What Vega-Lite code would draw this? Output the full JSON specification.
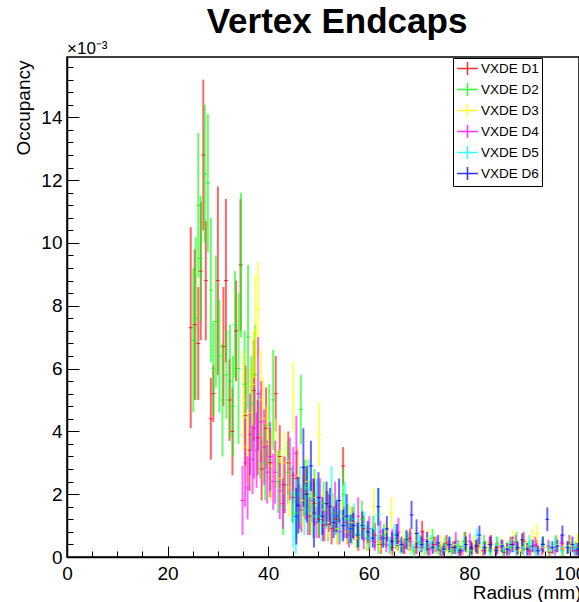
{
"$schema":"https://vega.github.io/schema/vega-lite/v6.json",
"width":512,"height":500,
"autosize":{"type":"none"},
"padding":{"left":67,"top":57,"right":0,"bottom":45},
"background":"white",
"title":{"text":"Vertex Endcaps","font":"Liberation Sans","fontSize":35,"fontWeight":"bold","color":"black","anchor":"middle","frame":"group","dx":14,"offset":-35,"baseline":"bottom"},
"config":{"view":{"stroke":"black","strokeWidth":1.5},"font":"Liberation Sans",
 "axis":{"grid":false,"domainColor":"black","domainWidth":1.5,"tickColor":"black","tickWidth":1,"labelFont":"Liberation Sans","labelFontSize":19,"labelColor":"black","titleFont":"Liberation Sans","titleFontSize":19,"titleFontWeight":"normal","titleColor":"black","labelOverlap":false,"labelFlush":false}},
"resolve":{"axis":{"x":"independent","y":"independent"}},
"data":{"values":[
{"s":"VXDE D1","r":24.6,"o":7.3,"e":3.2},{"s":"VXDE D1","r":25.4,"o":7.4,"e":2.4},{"s":"VXDE D1","r":26.1,"o":6.8,"e":1.8},{"s":"VXDE D1","r":26.6,"o":9.1,"e":2.2},{"s":"VXDE D1","r":27.1,"o":12.8,"e":2.4},{"s":"VXDE D1","r":27.6,"o":8.8,"e":1.9},{"s":"VXDE D1","r":28.6,"o":4.4,"e":1.3},{"s":"VXDE D1","r":29.1,"o":5.2,"e":0.9},{"s":"VXDE D1","r":30.0,"o":8.8,"e":3.0},{"s":"VXDE D1","r":31.1,"o":6.7,"e":1.9},{"s":"VXDE D1","r":31.6,"o":8.8,"e":2.6},{"s":"VXDE D1","r":32.3,"o":5.0,"e":1.3},{"s":"VXDE D1","r":32.9,"o":4.0,"e":1.4},{"s":"VXDE D1","r":33.6,"o":7.2,"e":1.6},{"s":"VXDE D1","r":34.5,"o":9.3,"e":2.1},{"s":"VXDE D1","r":35.5,"o":4.5,"e":1.6},{"s":"VXDE D1","r":36.3,"o":3.4,"e":1.3},{"s":"VXDE D1","r":37.1,"o":5.3,"e":1.6},{"s":"VXDE D1","r":37.9,"o":3.8,"e":1.2},{"s":"VXDE D1","r":38.7,"o":2.8,"e":1.0},{"s":"VXDE D1","r":39.6,"o":4.1,"e":1.3},{"s":"VXDE D1","r":40.4,"o":3.0,"e":1.1},{"s":"VXDE D1","r":41.5,"o":5.2,"e":1.2},{"s":"VXDE D1","r":42.3,"o":3.2,"e":1.0},{"s":"VXDE D1","r":43.1,"o":2.3,"e":0.9},{"s":"VXDE D1","r":44.0,"o":3.0,"e":1.0},{"s":"VXDE D1","r":44.9,"o":1.9,"e":0.8},{"s":"VXDE D1","r":45.7,"o":2.5,"e":0.9},{"s":"VXDE D1","r":46.6,"o":1.5,"e":0.7},{"s":"VXDE D1","r":47.4,"o":2.0,"e":0.8},{"s":"VXDE D1","r":48.3,"o":1.3,"e":0.6},{"s":"VXDE D1","r":49.2,"o":1.7,"e":0.7},{"s":"VXDE D1","r":50.1,"o":1.2,"e":0.6},{"s":"VXDE D1","r":50.9,"o":1.0,"e":0.5},{"s":"VXDE D1","r":51.8,"o":1.5,"e":0.6},{"s":"VXDE D1","r":52.6,"o":0.9,"e":0.5},{"s":"VXDE D1","r":53.5,"o":1.2,"e":0.5},{"s":"VXDE D1","r":54.9,"o":2.9,"e":0.6},{"s":"VXDE D1","r":55.8,"o":0.8,"e":0.4},{"s":"VXDE D1","r":56.8,"o":1.1,"e":0.5},{"s":"VXDE D1","r":57.9,"o":0.6,"e":0.4},{"s":"VXDE D1","r":59.0,"o":0.9,"e":0.4},{"s":"VXDE D1","r":60.1,"o":0.5,"e":0.3},{"s":"VXDE D1","r":61.2,"o":0.7,"e":0.4},{"s":"VXDE D1","r":62.4,"o":0.4,"e":0.3},{"s":"VXDE D1","r":63.5,"o":0.6,"e":0.3},{"s":"VXDE D1","r":64.7,"o":0.3,"e":0.25},{"s":"VXDE D1","r":65.8,"o":0.5,"e":0.3},{"s":"VXDE D1","r":67.0,"o":0.35,"e":0.25},{"s":"VXDE D1","r":68.2,"o":0.6,"e":0.3},{"s":"VXDE D1","r":69.4,"o":0.3,"e":0.2},{"s":"VXDE D1","r":70.6,"o":0.8,"e":0.35},{"s":"VXDE D1","r":71.8,"o":0.25,"e":0.2},{"s":"VXDE D1","r":73.0,"o":0.4,"e":0.25},{"s":"VXDE D1","r":74.3,"o":0.2,"e":0.2},{"s":"VXDE D1","r":75.5,"o":0.45,"e":0.25},{"s":"VXDE D1","r":76.7,"o":0.3,"e":0.2},{"s":"VXDE D1","r":78.0,"o":0.15,"e":0.15},{"s":"VXDE D1","r":79.2,"o":0.5,"e":0.3},{"s":"VXDE D1","r":80.5,"o":0.25,"e":0.2},{"s":"VXDE D1","r":81.7,"o":0.35,"e":0.25},{"s":"VXDE D1","r":83.0,"o":0.2,"e":0.15},{"s":"VXDE D1","r":84.3,"o":0.45,"e":0.25},{"s":"VXDE D1","r":85.6,"o":0.3,"e":0.2},{"s":"VXDE D1","r":86.9,"o":0.15,"e":0.15},{"s":"VXDE D1","r":88.2,"o":0.4,"e":0.25},{"s":"VXDE D1","r":89.5,"o":0.25,"e":0.2},{"s":"VXDE D1","r":90.8,"o":0.5,"e":0.3},{"s":"VXDE D1","r":92.1,"o":0.2,"e":0.15},{"s":"VXDE D1","r":93.4,"o":0.35,"e":0.2},{"s":"VXDE D1","r":94.7,"o":0.3,"e":0.2},{"s":"VXDE D1","r":96.0,"o":0.15,"e":0.15},{"s":"VXDE D1","r":97.3,"o":0.4,"e":0.25},{"s":"VXDE D1","r":98.6,"o":0.25,"e":0.2},{"s":"VXDE D1","r":99.9,"o":0.45,"e":0.25},{"s":"VXDE D1","r":101.2,"o":0.2,"e":0.15},
{"s":"VXDE D2","r":25.1,"o":6.9,"e":2.3},{"s":"VXDE D2","r":25.6,"o":7.6,"e":2.6},{"s":"VXDE D2","r":26.1,"o":11.2,"e":2.3},{"s":"VXDE D2","r":26.6,"o":9.5,"e":2.0},{"s":"VXDE D2","r":27.4,"o":12.2,"e":2.2},{"s":"VXDE D2","r":28.0,"o":11.9,"e":2.2},{"s":"VXDE D2","r":28.6,"o":8.5,"e":2.3},{"s":"VXDE D2","r":29.1,"o":6.0,"e":1.5},{"s":"VXDE D2","r":29.6,"o":7.5,"e":2.1},{"s":"VXDE D2","r":30.3,"o":6.4,"e":1.8},{"s":"VXDE D2","r":30.9,"o":5.0,"e":1.8},{"s":"VXDE D2","r":31.7,"o":5.8,"e":1.4},{"s":"VXDE D2","r":32.4,"o":5.6,"e":1.8},{"s":"VXDE D2","r":33.0,"o":4.8,"e":1.6},{"s":"VXDE D2","r":33.4,"o":7.4,"e":1.7},{"s":"VXDE D2","r":34.1,"o":6.0,"e":2.4},{"s":"VXDE D2","r":34.6,"o":9.3,"e":2.3},{"s":"VXDE D2","r":35.3,"o":5.5,"e":1.7},{"s":"VXDE D2","r":36.0,"o":7.0,"e":2.3},{"s":"VXDE D2","r":36.7,"o":4.9,"e":1.5},{"s":"VXDE D2","r":37.4,"o":5.8,"e":1.6},{"s":"VXDE D2","r":38.4,"o":3.9,"e":1.4},{"s":"VXDE D2","r":39.4,"o":3.0,"e":1.2},{"s":"VXDE D2","r":40.2,"o":4.2,"e":1.3},{"s":"VXDE D2","r":41.0,"o":5.0,"e":1.6},{"s":"VXDE D2","r":42.0,"o":2.4,"e":1.0},{"s":"VXDE D2","r":43.0,"o":1.6,"e":0.9},{"s":"VXDE D2","r":43.9,"o":2.7,"e":1.0},{"s":"VXDE D2","r":44.8,"o":2.0,"e":0.9},{"s":"VXDE D2","r":45.6,"o":1.4,"e":0.8},{"s":"VXDE D2","r":46.5,"o":4.7,"e":1.1},{"s":"VXDE D2","r":47.4,"o":2.2,"e":0.9},{"s":"VXDE D2","r":48.3,"o":1.6,"e":0.8},{"s":"VXDE D2","r":49.2,"o":2.0,"e":0.8},{"s":"VXDE D2","r":50.1,"o":1.3,"e":0.6},{"s":"VXDE D2","r":51.0,"o":1.7,"e":0.7},{"s":"VXDE D2","r":51.9,"o":1.0,"e":0.5},{"s":"VXDE D2","r":52.8,"o":1.4,"e":0.6},{"s":"VXDE D2","r":53.8,"o":0.9,"e":0.5},{"s":"VXDE D2","r":54.9,"o":2.0,"e":0.8},{"s":"VXDE D2","r":55.8,"o":1.2,"e":0.5},{"s":"VXDE D2","r":56.6,"o":1.0,"e":0.6},{"s":"VXDE D2","r":57.6,"o":0.7,"e":0.4},{"s":"VXDE D2","r":58.6,"o":1.2,"e":0.6},{"s":"VXDE D2","r":59.7,"o":0.6,"e":0.4},{"s":"VXDE D2","r":60.8,"o":0.9,"e":0.4},{"s":"VXDE D2","r":61.9,"o":0.4,"e":0.3},{"s":"VXDE D2","r":63.0,"o":0.7,"e":0.35},{"s":"VXDE D2","r":64.2,"o":0.35,"e":0.25},{"s":"VXDE D2","r":65.4,"o":0.55,"e":0.3},{"s":"VXDE D2","r":66.6,"o":0.3,"e":0.2},{"s":"VXDE D2","r":67.8,"o":0.5,"e":0.3},{"s":"VXDE D2","r":69.0,"o":0.2,"e":0.2},{"s":"VXDE D2","r":70.2,"o":0.45,"e":0.25},{"s":"VXDE D2","r":71.5,"o":0.3,"e":0.2},{"s":"VXDE D2","r":72.7,"o":0.6,"e":0.3},{"s":"VXDE D2","r":74.0,"o":0.25,"e":0.2},{"s":"VXDE D2","r":75.2,"o":0.4,"e":0.25},{"s":"VXDE D2","r":76.5,"o":0.2,"e":0.15},{"s":"VXDE D2","r":77.8,"o":0.35,"e":0.2},{"s":"VXDE D2","r":79.0,"o":0.5,"e":0.3},{"s":"VXDE D2","r":80.3,"o":0.2,"e":0.15},{"s":"VXDE D2","r":81.6,"o":0.3,"e":0.2},{"s":"VXDE D2","r":82.9,"o":0.45,"e":0.25},{"s":"VXDE D2","r":84.2,"o":0.25,"e":0.2},{"s":"VXDE D2","r":85.5,"o":0.4,"e":0.25},{"s":"VXDE D2","r":86.8,"o":0.2,"e":0.15},{"s":"VXDE D2","r":88.1,"o":0.3,"e":0.2},{"s":"VXDE D2","r":89.4,"o":0.5,"e":0.3},{"s":"VXDE D2","r":90.7,"o":0.25,"e":0.2},{"s":"VXDE D2","r":92.0,"o":0.35,"e":0.2},{"s":"VXDE D2","r":93.3,"o":0.2,"e":0.15},{"s":"VXDE D2","r":94.6,"o":0.4,"e":0.25},{"s":"VXDE D2","r":95.9,"o":0.3,"e":0.2},{"s":"VXDE D2","r":97.2,"o":0.45,"e":0.25},{"s":"VXDE D2","r":98.5,"o":0.2,"e":0.15},{"s":"VXDE D2","r":99.8,"o":0.35,"e":0.2},{"s":"VXDE D2","r":101.1,"o":0.3,"e":0.2},
{"s":"VXDE D3","r":35.1,"o":5.0,"e":1.6},{"s":"VXDE D3","r":35.7,"o":3.5,"e":1.1},{"s":"VXDE D3","r":36.4,"o":4.6,"e":1.4},{"s":"VXDE D3","r":37.0,"o":5.5,"e":1.7},{"s":"VXDE D3","r":37.5,"o":7.2,"e":1.8},{"s":"VXDE D3","r":38.0,"o":7.9,"e":1.5},{"s":"VXDE D3","r":38.6,"o":5.0,"e":1.6},{"s":"VXDE D3","r":39.0,"o":4.4,"e":1.3},{"s":"VXDE D3","r":39.8,"o":3.6,"e":1.2},{"s":"VXDE D3","r":40.6,"o":2.9,"e":1.1},{"s":"VXDE D3","r":41.5,"o":3.3,"e":1.1},{"s":"VXDE D3","r":42.4,"o":2.5,"e":0.9},{"s":"VXDE D3","r":43.2,"o":3.0,"e":1.0},{"s":"VXDE D3","r":44.1,"o":2.2,"e":0.9},{"s":"VXDE D3","r":45.0,"o":5.1,"e":1.1},{"s":"VXDE D3","r":45.9,"o":2.6,"e":0.9},{"s":"VXDE D3","r":46.8,"o":1.8,"e":0.8},{"s":"VXDE D3","r":47.7,"o":2.4,"e":0.8},{"s":"VXDE D3","r":48.6,"o":1.4,"e":0.7},{"s":"VXDE D3","r":49.4,"o":1.9,"e":0.7},{"s":"VXDE D3","r":50.1,"o":3.9,"e":1.0},{"s":"VXDE D3","r":51.0,"o":1.5,"e":0.6},{"s":"VXDE D3","r":51.9,"o":1.1,"e":0.5},{"s":"VXDE D3","r":52.8,"o":1.6,"e":0.6},{"s":"VXDE D3","r":53.7,"o":0.9,"e":0.5},{"s":"VXDE D3","r":54.6,"o":1.3,"e":0.5},{"s":"VXDE D3","r":55.6,"o":0.8,"e":0.4},{"s":"VXDE D3","r":56.6,"o":1.1,"e":0.5},{"s":"VXDE D3","r":57.6,"o":0.6,"e":0.35},{"s":"VXDE D3","r":58.7,"o":1.0,"e":0.4},{"s":"VXDE D3","r":59.8,"o":0.5,"e":0.3},{"s":"VXDE D3","r":61.0,"o":1.6,"e":0.6},{"s":"VXDE D3","r":62.2,"o":0.5,"e":0.3},{"s":"VXDE D3","r":63.4,"o":0.8,"e":0.35},{"s":"VXDE D3","r":64.5,"o":1.4,"e":0.5},{"s":"VXDE D3","r":65.7,"o":0.4,"e":0.25},{"s":"VXDE D3","r":66.9,"o":0.6,"e":0.3},{"s":"VXDE D3","r":68.1,"o":0.3,"e":0.2},{"s":"VXDE D3","r":69.3,"o":0.5,"e":0.3},{"s":"VXDE D3","r":70.5,"o":0.25,"e":0.2},{"s":"VXDE D3","r":71.8,"o":0.6,"e":0.3},{"s":"VXDE D3","r":73.1,"o":0.3,"e":0.2},{"s":"VXDE D3","r":74.4,"o":0.45,"e":0.25},{"s":"VXDE D3","r":75.7,"o":0.2,"e":0.15},{"s":"VXDE D3","r":77.0,"o":0.4,"e":0.25},{"s":"VXDE D3","r":78.3,"o":0.3,"e":0.2},{"s":"VXDE D3","r":79.6,"o":0.2,"e":0.15},{"s":"VXDE D3","r":80.9,"o":0.45,"e":0.25},{"s":"VXDE D3","r":82.2,"o":0.25,"e":0.2},{"s":"VXDE D3","r":83.5,"o":0.35,"e":0.2},{"s":"VXDE D3","r":84.8,"o":0.2,"e":0.15},{"s":"VXDE D3","r":86.1,"o":0.4,"e":0.25},{"s":"VXDE D3","r":87.4,"o":0.3,"e":0.2},{"s":"VXDE D3","r":88.7,"o":0.55,"e":0.3},{"s":"VXDE D3","r":90.0,"o":0.2,"e":0.15},{"s":"VXDE D3","r":91.3,"o":0.35,"e":0.2},{"s":"VXDE D3","r":92.5,"o":0.65,"e":0.25},{"s":"VXDE D3","r":93.5,"o":0.75,"e":0.3},{"s":"VXDE D3","r":94.8,"o":0.3,"e":0.2},{"s":"VXDE D3","r":96.1,"o":0.2,"e":0.15},{"s":"VXDE D3","r":97.4,"o":0.4,"e":0.25},{"s":"VXDE D3","r":98.7,"o":0.25,"e":0.2},{"s":"VXDE D3","r":100.0,"o":0.35,"e":0.2},{"s":"VXDE D3","r":101.3,"o":0.5,"e":0.25},
{"s":"VXDE D4","r":34.9,"o":1.8,"e":1.1},{"s":"VXDE D4","r":35.4,"o":3.0,"e":1.4},{"s":"VXDE D4","r":35.9,"o":2.2,"e":1.0},{"s":"VXDE D4","r":36.4,"o":3.9,"e":1.3},{"s":"VXDE D4","r":36.9,"o":3.1,"e":1.1},{"s":"VXDE D4","r":37.2,"o":4.1,"e":1.6},{"s":"VXDE D4","r":37.7,"o":3.4,"e":1.2},{"s":"VXDE D4","r":38.0,"o":5.2,"e":1.8},{"s":"VXDE D4","r":38.6,"o":4.3,"e":1.3},{"s":"VXDE D4","r":39.2,"o":3.5,"e":1.2},{"s":"VXDE D4","r":39.8,"o":2.7,"e":1.0},{"s":"VXDE D4","r":40.4,"o":3.2,"e":1.1},{"s":"VXDE D4","r":41.0,"o":2.4,"e":0.9},{"s":"VXDE D4","r":41.4,"o":2.7,"e":1.0},{"s":"VXDE D4","r":42.3,"o":2.1,"e":0.9},{"s":"VXDE D4","r":42.9,"o":1.7,"e":0.8},{"s":"VXDE D4","r":43.3,"o":2.3,"e":0.9},{"s":"VXDE D4","r":44.3,"o":2.8,"e":1.0},{"s":"VXDE D4","r":45.0,"o":2.6,"e":0.9},{"s":"VXDE D4","r":45.6,"o":3.3,"e":1.2},{"s":"VXDE D4","r":46.2,"o":1.6,"e":0.7},{"s":"VXDE D4","r":47.1,"o":2.1,"e":0.8},{"s":"VXDE D4","r":47.9,"o":1.3,"e":0.6},{"s":"VXDE D4","r":48.8,"o":1.8,"e":0.7},{"s":"VXDE D4","r":49.6,"o":1.1,"e":0.5},{"s":"VXDE D4","r":50.3,"o":1.9,"e":0.6},{"s":"VXDE D4","r":51.2,"o":1.0,"e":0.5},{"s":"VXDE D4","r":52.1,"o":1.4,"e":0.6},{"s":"VXDE D4","r":53.3,"o":1.6,"e":0.8},{"s":"VXDE D4","r":54.2,"o":0.8,"e":0.4},{"s":"VXDE D4","r":55.1,"o":1.1,"e":0.5},{"s":"VXDE D4","r":56.1,"o":0.7,"e":0.4},{"s":"VXDE D4","r":57.0,"o":1.0,"e":0.45},{"s":"VXDE D4","r":57.9,"o":1.3,"e":0.6},{"s":"VXDE D4","r":59.0,"o":0.6,"e":0.35},{"s":"VXDE D4","r":60.1,"o":0.9,"e":0.4},{"s":"VXDE D4","r":61.2,"o":0.5,"e":0.3},{"s":"VXDE D4","r":62.3,"o":0.8,"e":0.35},{"s":"VXDE D4","r":63.5,"o":0.4,"e":0.25},{"s":"VXDE D4","r":64.7,"o":0.6,"e":0.3},{"s":"VXDE D4","r":65.9,"o":0.8,"e":0.45},{"s":"VXDE D4","r":67.1,"o":0.3,"e":0.2},{"s":"VXDE D4","r":68.3,"o":0.5,"e":0.3},{"s":"VXDE D4","r":69.5,"o":0.3,"e":0.2},{"s":"VXDE D4","r":70.8,"o":0.55,"e":0.3},{"s":"VXDE D4","r":72.1,"o":0.25,"e":0.2},{"s":"VXDE D4","r":73.4,"o":0.4,"e":0.25},{"s":"VXDE D4","r":74.7,"o":0.2,"e":0.15},{"s":"VXDE D4","r":76.0,"o":0.35,"e":0.2},{"s":"VXDE D4","r":77.3,"o":0.5,"e":0.3},{"s":"VXDE D4","r":78.6,"o":0.2,"e":0.15},{"s":"VXDE D4","r":80.1,"o":0.5,"e":0.25},{"s":"VXDE D4","r":81.4,"o":0.3,"e":0.2},{"s":"VXDE D4","r":82.7,"o":0.2,"e":0.15},{"s":"VXDE D4","r":84.0,"o":0.4,"e":0.25},{"s":"VXDE D4","r":85.3,"o":0.25,"e":0.2},{"s":"VXDE D4","r":86.6,"o":0.35,"e":0.2},{"s":"VXDE D4","r":87.9,"o":0.2,"e":0.15},{"s":"VXDE D4","r":89.2,"o":0.45,"e":0.25},{"s":"VXDE D4","r":90.5,"o":0.3,"e":0.2},{"s":"VXDE D4","r":91.8,"o":0.2,"e":0.15},{"s":"VXDE D4","r":93.1,"o":0.4,"e":0.25},{"s":"VXDE D4","r":94.4,"o":0.25,"e":0.2},{"s":"VXDE D4","r":95.7,"o":0.35,"e":0.2},{"s":"VXDE D4","r":97.0,"o":0.2,"e":0.15},{"s":"VXDE D4","r":98.3,"o":0.45,"e":0.25},{"s":"VXDE D4","r":99.6,"o":0.3,"e":0.2},{"s":"VXDE D4","r":100.9,"o":0.2,"e":0.15},
{"s":"VXDE D5","r":45.0,"o":1.2,"e":0.9},{"s":"VXDE D5","r":45.5,"o":1.3,"e":1.2},{"s":"VXDE D5","r":46.3,"o":2.0,"e":0.9},{"s":"VXDE D5","r":47.2,"o":1.5,"e":0.8},{"s":"VXDE D5","r":48.0,"o":2.2,"e":0.9},{"s":"VXDE D5","r":48.9,"o":1.3,"e":0.7},{"s":"VXDE D5","r":49.7,"o":1.8,"e":0.7},{"s":"VXDE D5","r":50.6,"o":1.1,"e":0.6},{"s":"VXDE D5","r":51.5,"o":1.5,"e":0.6},{"s":"VXDE D5","r":52.6,"o":2.0,"e":0.9},{"s":"VXDE D5","r":53.5,"o":1.3,"e":0.6},{"s":"VXDE D5","r":54.4,"o":1.0,"e":0.5},{"s":"VXDE D5","r":55.3,"o":1.7,"e":0.7},{"s":"VXDE D5","r":56.2,"o":0.9,"e":0.45},{"s":"VXDE D5","r":57.1,"o":1.2,"e":0.5},{"s":"VXDE D5","r":58.1,"o":0.7,"e":0.4},{"s":"VXDE D5","r":59.1,"o":1.0,"e":0.45},{"s":"VXDE D5","r":60.1,"o":0.6,"e":0.35},{"s":"VXDE D5","r":61.0,"o":0.9,"e":0.4},{"s":"VXDE D5","r":61.9,"o":1.35,"e":0.85},{"s":"VXDE D5","r":63.0,"o":0.6,"e":0.3},{"s":"VXDE D5","r":64.1,"o":0.4,"e":0.25},{"s":"VXDE D5","r":65.2,"o":0.7,"e":0.35},{"s":"VXDE D5","r":66.3,"o":0.35,"e":0.25},{"s":"VXDE D5","r":67.5,"o":0.55,"e":0.3},{"s":"VXDE D5","r":68.7,"o":0.3,"e":0.2},{"s":"VXDE D5","r":69.9,"o":0.5,"e":0.3},{"s":"VXDE D5","r":71.1,"o":0.25,"e":0.2},{"s":"VXDE D5","r":72.3,"o":0.45,"e":0.25},{"s":"VXDE D5","r":73.6,"o":0.3,"e":0.2},{"s":"VXDE D5","r":74.9,"o":0.2,"e":0.15},{"s":"VXDE D5","r":76.2,"o":0.4,"e":0.25},{"s":"VXDE D5","r":77.5,"o":0.25,"e":0.2},{"s":"VXDE D5","r":78.8,"o":0.35,"e":0.2},{"s":"VXDE D5","r":80.1,"o":0.2,"e":0.15},{"s":"VXDE D5","r":81.5,"o":0.7,"e":0.2},{"s":"VXDE D5","r":82.8,"o":0.3,"e":0.2},{"s":"VXDE D5","r":84.1,"o":0.2,"e":0.15},{"s":"VXDE D5","r":85.4,"o":0.4,"e":0.25},{"s":"VXDE D5","r":86.7,"o":0.25,"e":0.2},{"s":"VXDE D5","r":88.0,"o":0.35,"e":0.2},{"s":"VXDE D5","r":89.3,"o":0.2,"e":0.15},{"s":"VXDE D5","r":90.6,"o":0.3,"e":0.2},{"s":"VXDE D5","r":91.9,"o":0.45,"e":0.25},{"s":"VXDE D5","r":93.2,"o":0.2,"e":0.15},{"s":"VXDE D5","r":94.5,"o":0.35,"e":0.2},{"s":"VXDE D5","r":95.8,"o":0.25,"e":0.2},{"s":"VXDE D5","r":97.1,"o":0.4,"e":0.25},{"s":"VXDE D5","r":98.4,"o":0.2,"e":0.15},{"s":"VXDE D5","r":99.7,"o":0.3,"e":0.2},{"s":"VXDE D5","r":101.0,"o":0.25,"e":0.2},
{"s":"VXDE D6","r":45.6,"o":1.3,"e":0.9},{"s":"VXDE D6","r":46.0,"o":1.65,"e":0.9},{"s":"VXDE D6","r":47.0,"o":2.85,"e":1.25},{"s":"VXDE D6","r":47.7,"o":2.0,"e":0.9},{"s":"VXDE D6","r":48.5,"o":2.9,"e":0.8},{"s":"VXDE D6","r":49.1,"o":1.4,"e":1.1},{"s":"VXDE D6","r":50.0,"o":1.9,"e":0.8},{"s":"VXDE D6","r":50.8,"o":1.3,"e":0.6},{"s":"VXDE D6","r":51.6,"o":1.7,"e":0.7},{"s":"VXDE D6","r":52.3,"o":1.6,"e":0.6},{"s":"VXDE D6","r":53.0,"o":1.1,"e":0.5},{"s":"VXDE D6","r":53.6,"o":1.3,"e":0.5},{"s":"VXDE D6","r":54.1,"o":1.8,"e":0.7},{"s":"VXDE D6","r":54.9,"o":1.0,"e":0.5},{"s":"VXDE D6","r":55.6,"o":1.3,"e":0.7},{"s":"VXDE D6","r":56.4,"o":0.9,"e":0.45},{"s":"VXDE D6","r":56.9,"o":1.0,"e":0.4},{"s":"VXDE D6","r":57.8,"o":0.7,"e":0.4},{"s":"VXDE D6","r":58.7,"o":1.0,"e":0.45},{"s":"VXDE D6","r":59.8,"o":0.8,"e":0.35},{"s":"VXDE D6","r":60.8,"o":0.6,"e":0.3},{"s":"VXDE D6","r":61.9,"o":1.6,"e":0.6},{"s":"VXDE D6","r":62.8,"o":0.6,"e":0.3},{"s":"VXDE D6","r":63.6,"o":0.9,"e":0.4},{"s":"VXDE D6","r":64.6,"o":0.5,"e":0.3},{"s":"VXDE D6","r":65.6,"o":0.7,"e":0.35},{"s":"VXDE D6","r":66.5,"o":0.4,"e":0.25},{"s":"VXDE D6","r":67.5,"o":0.55,"e":0.3},{"s":"VXDE D6","r":68.5,"o":1.34,"e":0.45},{"s":"VXDE D6","r":69.5,"o":0.75,"e":0.45},{"s":"VXDE D6","r":70.5,"o":0.4,"e":0.25},{"s":"VXDE D6","r":71.6,"o":0.5,"e":0.3},{"s":"VXDE D6","r":72.7,"o":0.3,"e":0.2},{"s":"VXDE D6","r":73.8,"o":0.45,"e":0.25},{"s":"VXDE D6","r":74.9,"o":0.25,"e":0.2},{"s":"VXDE D6","r":76.0,"o":0.4,"e":0.25},{"s":"VXDE D6","r":77.1,"o":0.3,"e":0.2},{"s":"VXDE D6","r":78.2,"o":0.2,"e":0.15},{"s":"VXDE D6","r":79.3,"o":0.4,"e":0.25},{"s":"VXDE D6","r":80.4,"o":0.3,"e":0.2},{"s":"VXDE D6","r":81.3,"o":0.35,"e":0.2},{"s":"VXDE D6","r":82.0,"o":0.7,"e":0.3},{"s":"VXDE D6","r":83.1,"o":0.3,"e":0.2},{"s":"VXDE D6","r":84.2,"o":0.4,"e":0.25},{"s":"VXDE D6","r":85.3,"o":0.2,"e":0.15},{"s":"VXDE D6","r":86.4,"o":0.35,"e":0.2},{"s":"VXDE D6","r":87.5,"o":0.25,"e":0.2},{"s":"VXDE D6","r":88.6,"o":0.4,"e":0.25},{"s":"VXDE D6","r":89.6,"o":0.3,"e":0.2},{"s":"VXDE D6","r":90.5,"o":0.55,"e":0.2},{"s":"VXDE D6","r":91.5,"o":0.25,"e":0.2},{"s":"VXDE D6","r":92.6,"o":0.35,"e":0.2},{"s":"VXDE D6","r":93.7,"o":0.2,"e":0.15},{"s":"VXDE D6","r":94.6,"o":0.4,"e":0.25},{"s":"VXDE D6","r":95.5,"o":1.2,"e":0.38},{"s":"VXDE D6","r":96.5,"o":0.3,"e":0.2},{"s":"VXDE D6","r":97.5,"o":0.35,"e":0.2},{"s":"VXDE D6","r":98.5,"o":0.7,"e":0.3},{"s":"VXDE D6","r":99.5,"o":0.3,"e":0.2},{"s":"VXDE D6","r":100.5,"o":0.4,"e":0.25},{"s":"VXDE D6","r":101.5,"o":0.25,"e":0.2}
]},
"layer":[
{"mark":{"type":"errorbar","ticks":false,"clip":true,"rule":{"strokeWidth":2,"opacity":0.6}},
 "encoding":{
  "x":{"field":"r","type":"quantitative","scale":{"domain":[0,101.8],"nice":false,"zero":false},
   "axis":{"orient":"bottom","title":"Radius (mm)","values":[0,20,40,60,80,100],"format":"d","tickSize":-11,"labelPadding":18,"titleAnchor":"end","titleAlign":"right","titleX":514,"titleY":41,"titleBaseline":"alphabetic"}},
  "y":{"field":"o","type":"quantitative","scale":{"domain":[0,15.92],"nice":false,"zero":false},
   "axis":{"orient":"left","title":"Occupancy","values":[0,2,4,6,8,10,12,14],"format":"d","tickSize":-12,"labelPadding":17,"titleAnchor":"end","titleAlign":"right","titleAngle":270,"titleBaseline":"alphabetic","titleX":-38,"titleY":3}},
  "yError":{"field":"e"},
  "color":{"field":"s","type":"nominal","scale":{"domain":["VXDE D1","VXDE D2","VXDE D3","VXDE D4","VXDE D5","VXDE D6"],"range":["#ff0000","#00ff00","#ffff00","#ff00ff","#00ffff","#0000ff"]},
   "legend":{"orient":"none","legendX":386,"legendY":1,"title":null,"symbolType":"M-1.6,0H1.6M0,-1V1","symbolSize":169,"symbolStrokeWidth":1.5,"symbolOpacity":0.6,"symbolFillColor":"transparent","symbolOffset":4,"labelFont":"Liberation Sans","labelFontSize":13.5,"labelColor":"black","labelOffset":6,"strokeColor":"black","fillColor":"white","padding":3,"rowPadding":2}}
 }},
{"mark":{"type":"tick","orient":"horizontal","size":4,"thickness":1,"opacity":0.8,"clip":true},
 "encoding":{
  "x":{"field":"r","type":"quantitative","axis":{"orient":"bottom","title":null,"labels":false,"domain":false,"tickSize":-6,"values":[5,10,15,25,30,35,45,50,55,65,70,75,85,90,95]}},
  "y":{"field":"o","type":"quantitative","axis":{"orient":"left","title":null,"labels":false,"domain":false,"tickSize":-6,"values":[0.4,0.8,1.2,1.6,2.4,2.8,3.2,3.6,4.4,4.8,5.2,5.6,6.4,6.8,7.2,7.6,8.4,8.8,9.2,9.6,10.4,10.8,11.2,11.6,12.4,12.8,13.2,13.6,14.4,14.8,15.2,15.6]}},
  "color":{"field":"s","type":"nominal"}}},
{"data":{"values":[{"t":"×10⁻³"}]},
 "mark":{"type":"text","align":"left","baseline":"alphabetic","fontSize":17,"dy":-3,"color":"black","font":"Liberation Sans"},
 "encoding":{"text":{"field":"t"},"x":{"datum":0,"type":"quantitative","axis":null},"y":{"datum":15.92,"type":"quantitative","axis":null}}}
]
}
